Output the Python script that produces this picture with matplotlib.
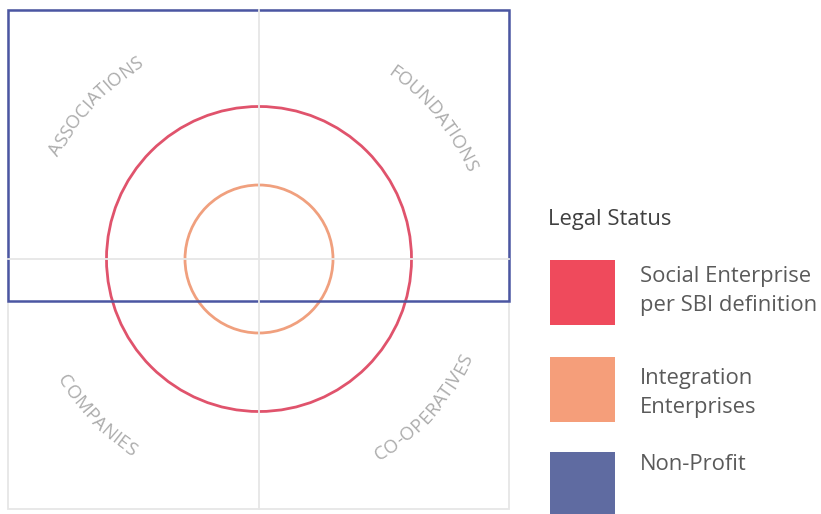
import numpy as np
import matplotlib
matplotlib.use("Agg")
import matplotlib.pyplot as plt
from matplotlib.patches import Circle, Rectangle
from matplotlib.font_manager import FontProperties

# ---- data ----
quadrant_labels = ["ASSOCIATIONS", "FOUNDATIONS", "COMPANIES", "CO-OPERATIVES"]
label_angles = [137, 39, 224, 318]          # degrees, math orientation
label_clockwise = [True, True, False, False]
circle_radii = [152.5, 74]
legend_title = "Legal Status"
legend_labels = ["Social Enterprise\nper SBI definition", "Integration\nEnterprises", "Non-Profit"]
legend_colors = ["#ef4a5c", "#f59e7a", "#5f6ba1"]
line_colors = ["#e0536c", "#f0a07e", "#4b56a2"]

W, H = 821, 514
fig = plt.figure(figsize=(W / 100, H / 100), dpi=100)
ax = fig.add_axes([0, 0, 1, 1])
ax.set_xlim(0, W)
ax.set_ylim(H, 0)
ax.set_aspect("equal")
ax.axis("off")

cx, cy = 259, 259
left, right, top, bottom = 8, 509, 10, 509
grey = "#e6e6e6"

# grey frame and quadrant lines
ax.add_patch(Rectangle((left, top), right - left, bottom - top, fill=False, ec=grey, lw=1.3))
ax.plot([cx, cx], [top, bottom], color=grey, lw=1.3)
ax.plot([left, right], [cy, cy], color=grey, lw=1.3)

# circles
for r, c in zip(circle_radii, line_colors[:2]):
    ax.add_patch(Circle((cx, cy), r, fill=False, ec=c, lw=2.0))

# non-profit rectangle
ax.add_patch(Rectangle((left, top), right - left, 301 - top, fill=False, ec=line_colors[2], lw=1.8))

# curved labels
fp = FontProperties(family=["Open Sans", "DejaVu Sans"], size=13.4)
fig.canvas.draw()
renderer = fig.canvas.get_renderer()
R = 230
track = 0.0
for lab, ang, cw in zip(quadrant_labels, label_angles, label_clockwise):
    widths = [renderer.get_text_width_height_descent(ch, fp, ismath=False)[0] + track for ch in lab]
    total = sum(widths)
    tot_ang = total / R
    th_c = np.deg2rad(ang)
    cum = 0
    for ch, w in zip(lab, widths):
        s = (cum + w / 2) / R
        if cw:
            th = th_c + tot_ang / 2 - s
            rot = np.rad2deg(th) - 90
        else:
            th = th_c - tot_ang / 2 + s
            rot = np.rad2deg(th) + 90
        x = cx + R * np.cos(th)
        y = cy - R * np.sin(th)
        ax.text(x, y, ch, fontproperties=fp, color="#acacac", rotation=rot,
                rotation_mode="anchor", ha="center", va="center")
        cum += w

# legend
lfont = ["Open Sans", "DejaVu Sans"]
ax.text(548, 219, legend_title, family=lfont, fontsize=15.8, color="#404040", va="center", ha="left")
sq_tops = [260, 357, 452]
text_offsets = [31, 36, 12]
for t, off, lab, col in zip(sq_tops, text_offsets, legend_labels, legend_colors):
    ax.add_patch(Rectangle((550, t), 65, 65, color=col, lw=0))
    ax.text(640, t + off, lab, family=lfont, fontsize=15.8,
            color="#5a5a5a", va="center", ha="left", linespacing=1.45)

fig.savefig("out.png", dpi=100)
